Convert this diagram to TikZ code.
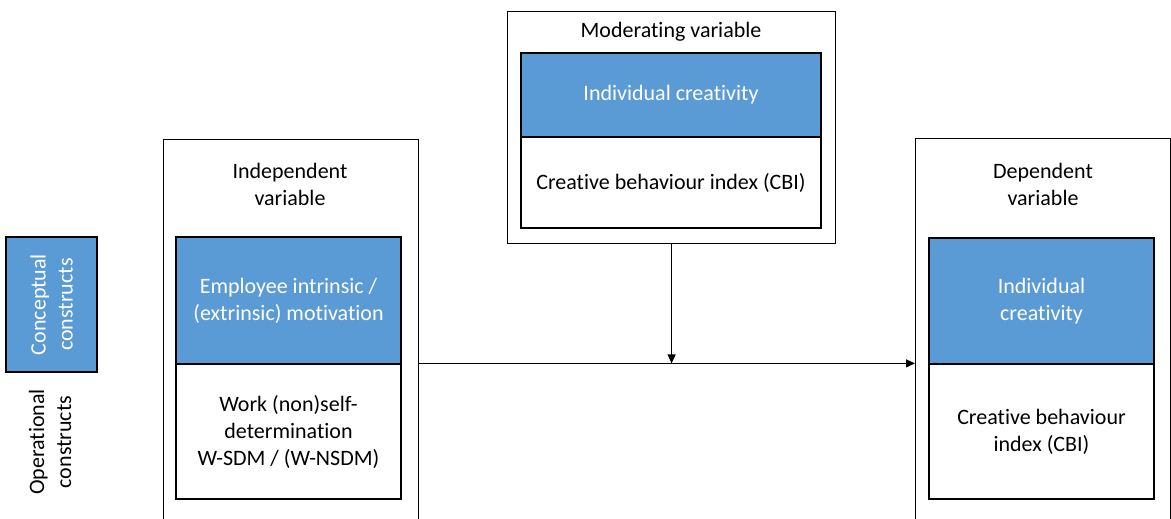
\documentclass[tikz,border=0pt]{standalone}
\usepackage{fontspec}
\setmainfont{Carlito}[RawFeature={-liga;-calt;-clig;-dlig}]
\usetikzlibrary{arrows.meta}
\definecolor{boxblue}{HTML}{5B9BD5}

\begin{document}
\begin{tikzpicture}[x=1pt,y=-1pt,line width=1.2pt,
	font=\fontsize{22}{27}\selectfont,
	frame/.style={draw,rectangle,anchor=north west,inner sep=0pt},
	concept/.style={draw,fill=boxblue,text=white,align=center,inner sep=0pt},
	oper/.style={draw,fill=white,align=center,inner sep=0pt},
	head/.style={align=center,inner sep=0pt},
	arr/.style={-{Triangle[length=9pt,width=8pt]}}]
	%\draw[help lines] (0,0) rectangle (1171,519);
	\useasboundingbox (0,0) rectangle (1171,519);
	\clip (0,0) rectangle (1171,519);
	% left legend
	\node[concept,rotate=90,minimum width=135,minimum height=91] (concbox) at (51.5,304.5) {Conceptual\\constructs};
	\node[head,rotate=90] (opertext) at (50,442) {Operational\\constructs};
	% independent
	\node[frame,minimum width=255,minimum height=400] (indep) at (163,139) {};
	\node[head] (indephead) at (290,184) {Independent\\variable};
	\node[concept,minimum width=225,minimum height=127] (indepconc) at (288.5,300.5) {Employee intrinsic /\\(extrinsic) motivation};
	\node[oper,minimum width=225,minimum height=135] (indepop) at (288.5,431.5) {Work (non)self-\\determination\\W-SDM / (W-NSDM)};
	% moderating
	\node[frame,minimum width=328,minimum height=232] (mod) at (507,11) {};
	\node[head] (modhead) at (671,32) {Moderating variable};
	\node[concept,minimum width=300,minimum height=84] (modconc) at (671,95) {Individual creativity};
	\node[oper,minimum width=300,minimum height=91] (modop) at (671,182.5) {Creative behaviour index (CBI)};
	% dependent
	\node[frame,minimum width=255,minimum height=400] (dep) at (915,138) {};
	\node[head] (dephead) at (1043,184) {Dependent\\variable};
	\node[concept,minimum width=225,minimum height=126] (depconc) at (1041.5,301) {Individual\\creativity};
	\node[oper,minimum width=225,minimum height=135] (depop) at (1041.5,431.5) {Creative behaviour\\index (CBI)};
	% arrows
	\draw[arr] (indep.east |- indepop.north) -- (dep.west |- indepop.north);
	\draw[arr] (mod.south) -- (mod.south |- indepop.north);
\end{tikzpicture}
\end{document}
